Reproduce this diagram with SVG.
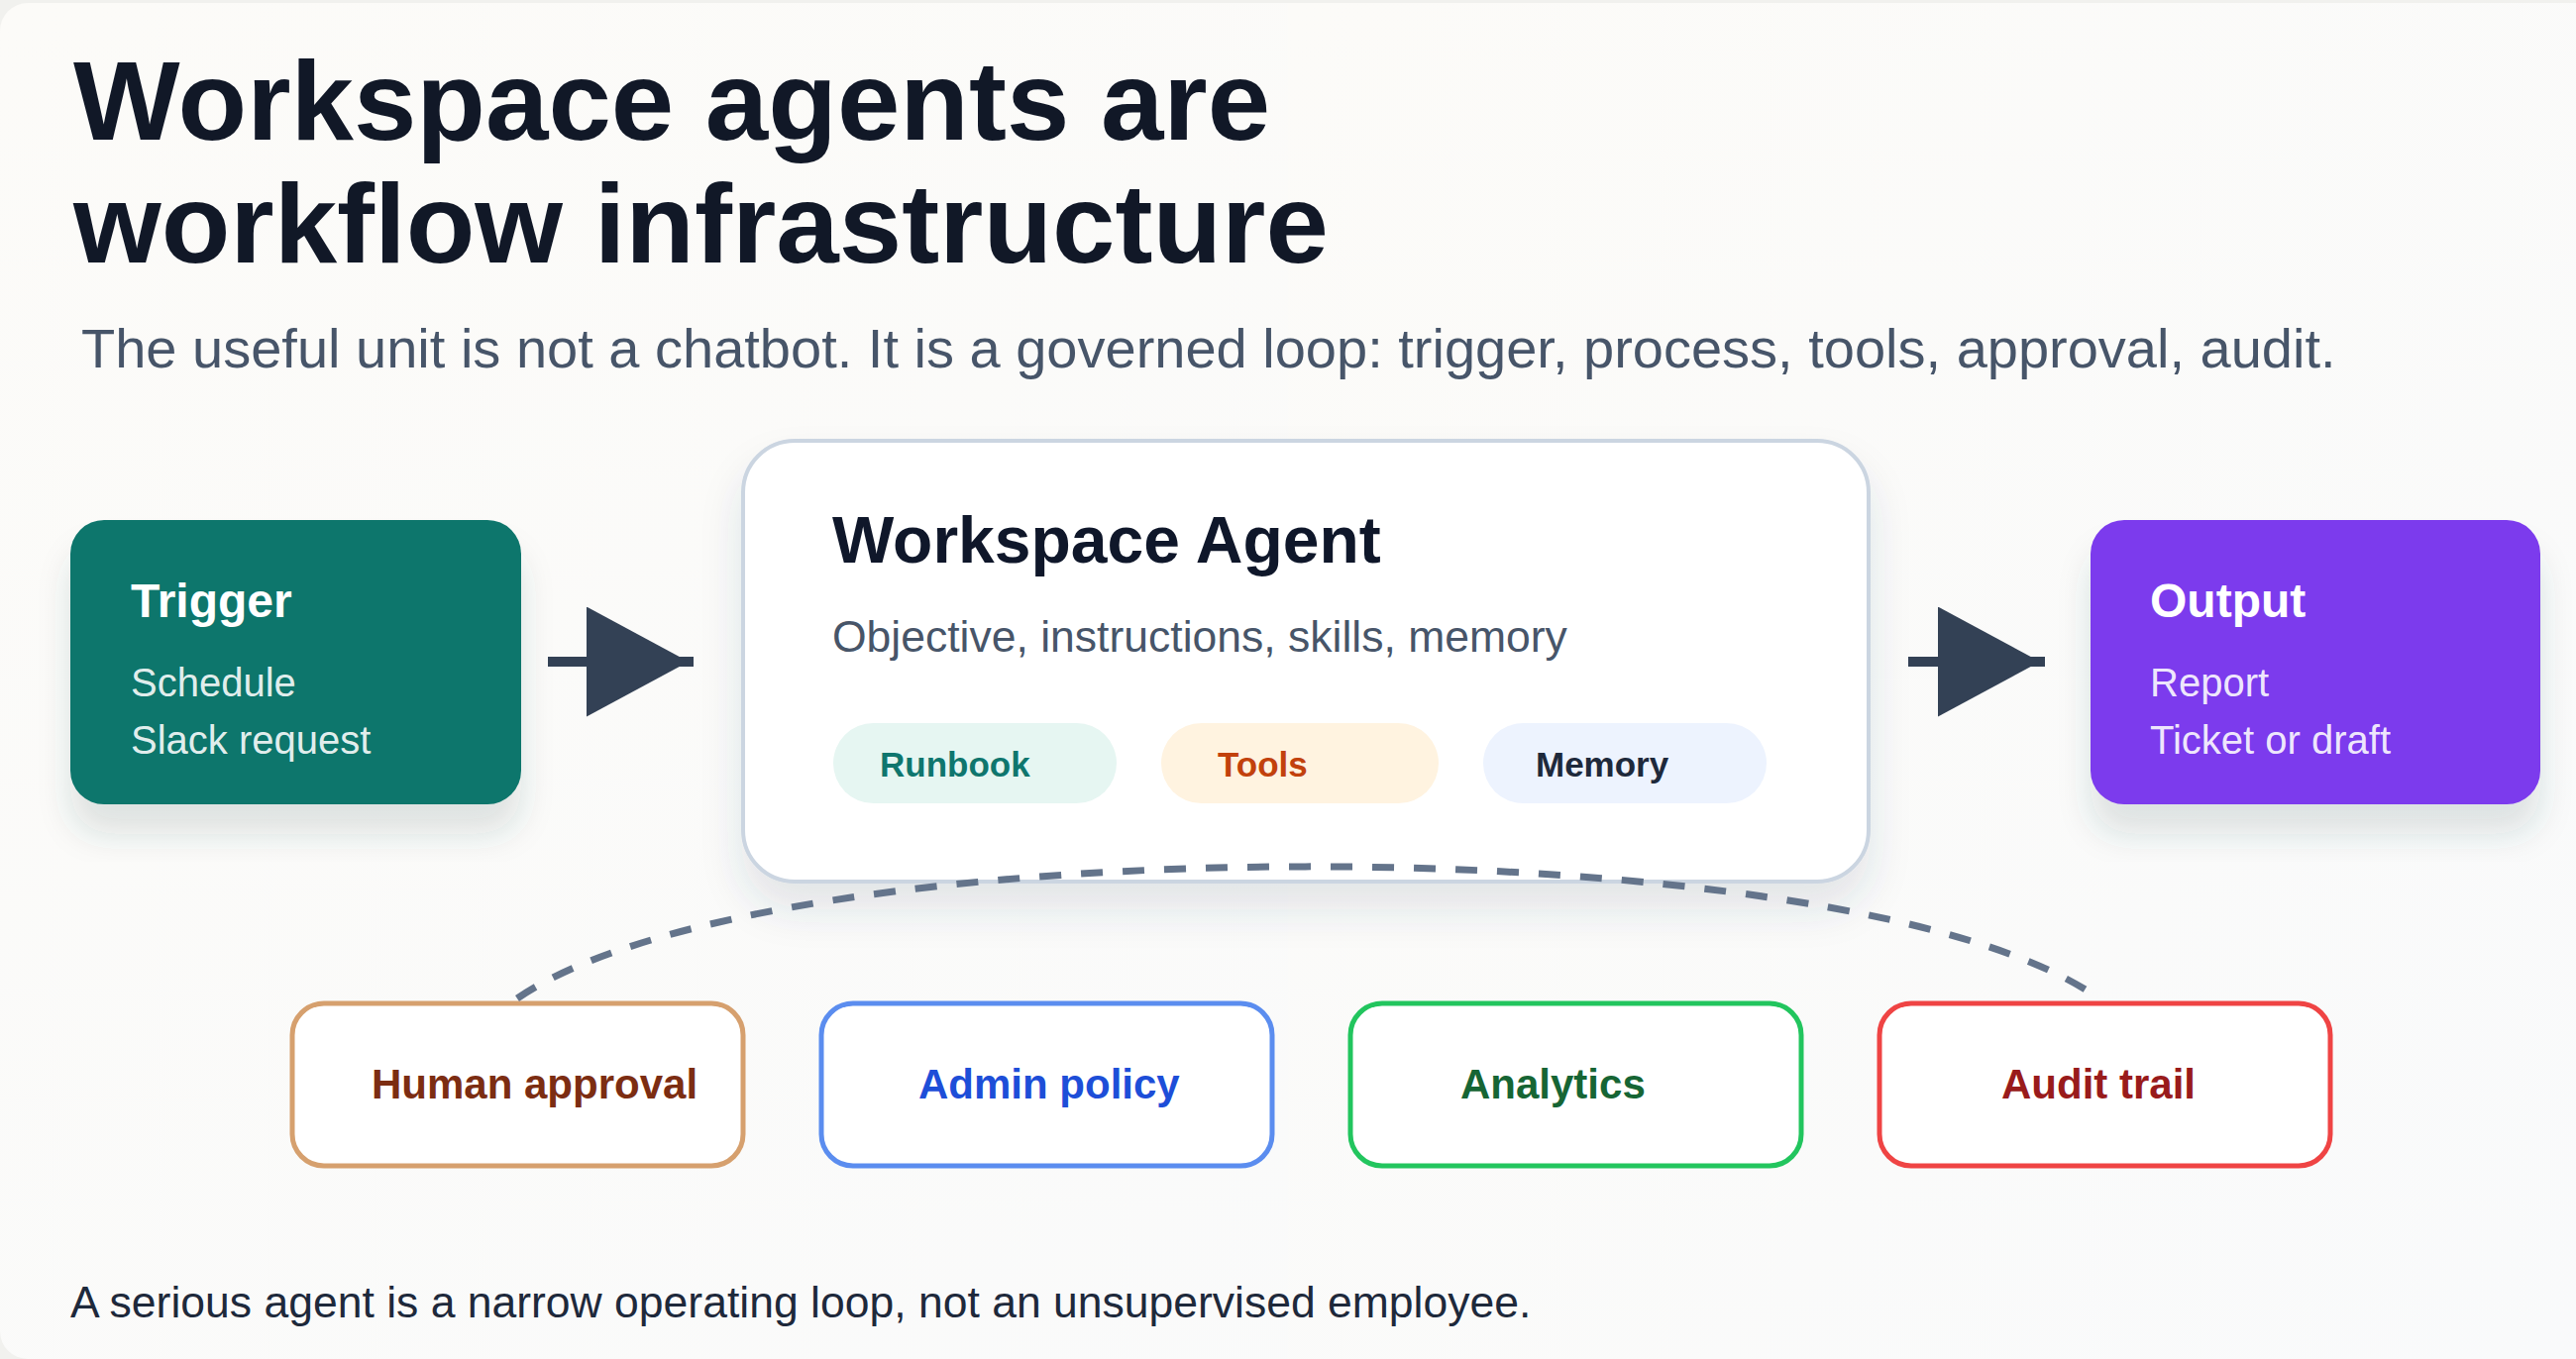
<svg xmlns="http://www.w3.org/2000/svg" width="2600" height="1372" viewBox="0 0 2600 1372">
  <defs>
    <linearGradient id="bg" x1="0" y1="0" x2="1" y2="1">
      <stop offset="0" stop-color="#fcfbf8"/>
      <stop offset="1" stop-color="#f9fafb"/>
    </linearGradient>
    <filter id="shadow" x="-10%" y="-10%" width="120%" height="130%">
      <feDropShadow dx="0" dy="30" stdDeviation="16" flood-color="#2f4f4f" flood-opacity="0.14"/>
    </filter>
    <filter id="shadowSoft" x="-10%" y="-10%" width="120%" height="130%">
      <feDropShadow dx="0" dy="26" stdDeviation="20" flood-color="#2f4f5f" flood-opacity="0.12"/>
    </filter>
    <marker id="head" markerUnits="userSpaceOnUse" markerWidth="110" markerHeight="112" refX="108" refY="55.5" orient="auto" viewBox="0 0 110 112">
      <path d="M0,0 L103,55.5 L0,111 Z" fill="#334155"/>
    </marker>
    <style>
      text { font-family: "Liberation Sans", Arial, Helvetica, sans-serif; }
      .title { font-size: 114px; font-weight: 700; fill: #111827; }
      .sub { font-size: 56px; fill: #475569; }
      .foot { font-size: 44.5px; fill: #1e293b; }
      .nodeTitle { font-size: 48px; font-weight: 700; fill: #ffffff; }
      .nodeLine { font-size: 40px; fill: #ffffff; fill-opacity: 0.9; }
      .agentTitle { font-size: 66px; font-weight: 700; fill: #0f172a; }
      .agentSub { font-size: 44.5px; fill: #475569; }
      .pillText { font-size: 35px; font-weight: 700; }
      .gov rect { fill: #ffffff; stroke-width: 5; }
      .govText { font-size: 42px; font-weight: 700; }
      .flow { stroke: #334155; stroke-width: 10; fill: none; }
      .loop { stroke: #64748b; stroke-width: 7; fill: none; stroke-dasharray: 22 20; }
    </style>
  </defs>

  <rect x="0" y="0" width="2600" height="1372" fill="#f1f1ee"/>
  <rect x="0" y="3" width="2600" height="1369" rx="28" fill="url(#bg)"/>
  <rect x="1300" y="3" width="1300" height="1369" fill="url(#bg)"/>

  <text class="title" x="74" y="141">Workspace agents are</text>
  <text class="title" x="74" y="265">workflow infrastructure</text>
  <text class="sub" x="82" y="371">The useful unit is not a chatbot. It is a governed loop: trigger, process, tools, approval, audit.</text>

  <g id="trigger">
    <rect x="71" y="525" width="455" height="287" rx="34" fill="#0b766c" filter="url(#shadow)"/>
    <text class="nodeTitle" x="132" y="623">Trigger</text>
    <text class="nodeLine" x="132" y="703">Schedule</text>
    <text class="nodeLine" x="132" y="761">Slack request</text>
  </g>

  <g id="agent">
    <rect x="750" y="445" width="1136" height="445" rx="52" fill="#ffffff" stroke="#cbd5e1" stroke-width="4" filter="url(#shadowSoft)"/>
    <text class="agentTitle" x="840" y="568">Workspace Agent</text>
    <text class="agentSub" x="840" y="658">Objective, instructions, skills, memory</text>
    <g id="pill-runbook">
      <rect x="841" y="730" width="286" height="81" rx="40.5" fill="#e6f6f2"/>
      <text class="pillText" x="888" y="784" fill="#0f766e">Runbook</text>
    </g>
    <g id="pill-tools">
      <rect x="1172" y="730" width="280" height="81" rx="40.5" fill="#fff3e0"/>
      <text class="pillText" x="1229" y="784" fill="#c2410c">Tools</text>
    </g>
    <g id="pill-memory">
      <rect x="1497" y="730" width="286" height="81" rx="40.5" fill="#edf3fe"/>
      <text class="pillText" x="1550" y="784" fill="#1e293b">Memory</text>
    </g>
  </g>

  <g id="output">
    <rect x="2110" y="525" width="454" height="287" rx="34" fill="#7c3aed" filter="url(#shadow)"/>
    <text class="nodeTitle" x="2170" y="623">Output</text>
    <text class="nodeLine" x="2170" y="703">Report</text>
    <text class="nodeLine" x="2170" y="761">Ticket or draft</text>
  </g>

  <g id="human-approval" class="gov">
    <rect x="295" y="1013" width="455" height="164" rx="32" stroke="#d6a06e"/>
    <text class="govText" x="375" y="1109" fill="#7c2d12">Human approval</text>
  </g>
  <g id="admin-policy" class="gov">
    <rect x="829" y="1013" width="455" height="164" rx="32" stroke="#5b8def"/>
    <text class="govText" x="927" y="1109" fill="#1d4ed8">Admin policy</text>
  </g>
  <g id="analytics" class="gov">
    <rect x="1363" y="1013" width="455" height="164" rx="32" stroke="#22c55e"/>
    <text class="govText" x="1474" y="1109" fill="#166534">Analytics</text>
  </g>
  <g id="audit-trail" class="gov">
    <rect x="1897" y="1013" width="455" height="164" rx="32" stroke="#ef4444"/>
    <text class="govText" x="2020" y="1109" fill="#991b1b">Audit trail</text>
  </g>

  <g id="connectors">
    <line class="flow" x1="553" y1="668" x2="700" y2="668" marker-end="url(#head)"/>
    <line class="flow" x1="1926" y1="668" x2="2064" y2="668" marker-end="url(#head)"/>
    <path class="loop" d="M522,1008 C780,831 1858,831 2114,1005"/>
  </g>

  <text class="foot" x="71" y="1330">A serious agent is a narrow operating loop, not an unsupervised employee.</text>
</svg>
